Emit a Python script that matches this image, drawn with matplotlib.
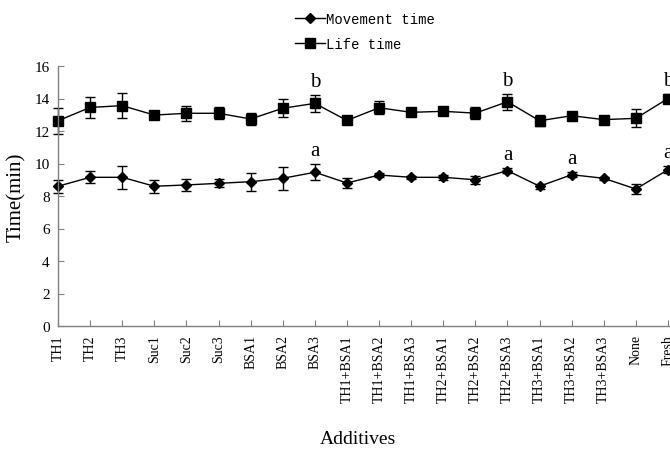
import matplotlib
matplotlib.use("Agg")
import matplotlib.pyplot as plt
from matplotlib.lines import Line2D
import numpy as np

categories = ["TH1", "TH2", "TH3", "Suc1", "Suc2", "Suc3", "BSA1", "BSA2", "BSA3",
              "TH1+BSA1", "TH1+BSA2", "TH1+BSA3", "TH2+BSA1", "TH2+BSA2", "TH2+BSA3",
              "TH3+BSA1", "TH3+BSA2", "TH3+BSA3", "None", "Fresh"]
movement = [8.6, 9.15, 9.15, 8.6, 8.68, 8.78, 8.88, 9.09, 9.46, 8.8,
            9.29, 9.15, 9.15, 9.0, 9.56, 8.6, 9.31, 9.09, 8.43, 9.62]
movement_err = [0.4, 0.38, 0.7, 0.4, 0.36, 0.25, 0.55, 0.7, 0.48, 0.3,
                0.15, 0.1, 0.15, 0.25, 0.15, 0.15, 0.15, 0.1, 0.3, 0.2]
life = [12.63, 13.45, 13.56, 12.98, 13.09, 13.09, 12.74, 13.4, 13.7, 12.65,
        13.43, 13.15, 13.21, 13.1, 13.8, 12.63, 12.94, 12.7, 12.78, 14.0]
life_err = [0.8, 0.65, 0.75, 0.15, 0.47, 0.38, 0.37, 0.55, 0.5, 0.15,
            0.4, 0.15, 0.2, 0.35, 0.5, 0.35, 0.2, 0.15, 0.55, 0.25]
life_letters = {"BSA3": "b", "TH2+BSA3": "b", "Fresh": "b"}
movement_letters = {"BSA3": "a", "TH2+BSA3": "a", "TH3+BSA2": "a", "Fresh": "a"}
y_ticks = [0, 2, 4, 6, 8, 10, 12, 14, 16]

plt.rcParams['font.family'] = ['Liberation Serif', 'DejaVu Serif']

fig = plt.figure(figsize=(6.7, 4.56), dpi=100)
ax = fig.add_axes([58/670, 1-327/456, 612/670, 260/456])

x = np.arange(len(categories))
ax.errorbar(x, movement, yerr=movement_err, color='black', marker='D', markersize=5,
            linewidth=1.0, elinewidth=1.0, capsize=3.5, capthick=1.0, clip_on=False)
ax.errorbar(x, life, yerr=life_err, color='black', marker='s', markersize=6.5,
            linewidth=1.0, elinewidth=1.0, capsize=3.5, capthick=1.0, clip_on=False)

for name, letter in life_letters.items():
    i = categories.index(name)
    ax.text(i, life[i] + life_err[i] + 0.25, letter, ha='center', va='bottom',
            fontsize=15, clip_on=False)
for name, letter in movement_letters.items():
    i = categories.index(name)
    ax.text(i, movement[i] + movement_err[i] + 0.25, letter, ha='center', va='bottom',
            fontsize=15, clip_on=False)

ax.set_xlim(0, 19 * 612 / 610)
ax.set_ylim(0, 16)
ax.set_yticks(y_ticks)
ax.set_xticks(x)
ax.set_xticklabels(categories, rotation=90, fontsize=10)
ax.tick_params(axis='y', direction='in', length=4, color='#808080', labelsize=11, pad=6)
ax.tick_params(axis='x', direction='in', length=4, color='#808080', pad=6)
for s in ['top', 'right']:
    ax.spines[s].set_visible(False)
for s in ['left', 'bottom']:
    ax.spines[s].set_color('#808080')
    ax.spines[s].set_linewidth(1.0)

ax.set_ylabel('Time(min)', fontsize=15, labelpad=6)
fig.text(358/670, 1-440/456, 'Additives', ha='center', va='center', fontsize=14)

h1 = Line2D([], [], color='black', marker='D', markersize=5, linewidth=1.0)
h2 = Line2D([], [], color='black', marker='s', markersize=6.5, linewidth=1.0)
fig.legend(handles=[h1, h2], labels=['Movement time', 'Life time'],
           loc='upper left', bbox_to_anchor=(282/670, 1.0), frameon=False,
           prop={'family': 'Liberation Mono', 'size': 10},
           handlelength=2.2, handletextpad=0.1, labelspacing=0.8)

fig.savefig('out.png', dpi=100)
